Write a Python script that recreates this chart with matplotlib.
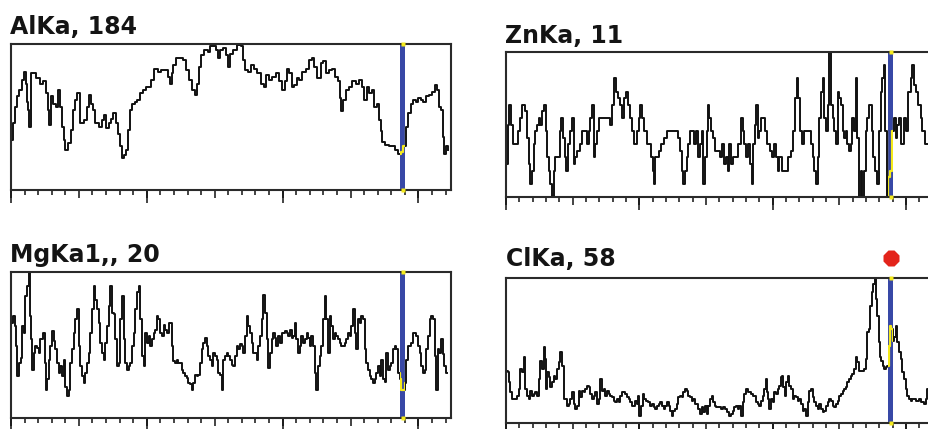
import matplotlib
matplotlib.use("Agg")
import matplotlib.pyplot as plt
import matplotlib.transforms as mtransforms
from matplotlib.ticker import MultipleLocator

# ---- element line scans (channel position, counts) ----
al_x = [0.7,2.2,3.2,5.1,7.1,8.8,10.5,11.3,12.0,13.0,14.0,14.9,17.4,19.8,22.3,24.7,26.7,27.7,28.9,30.1,
        32.1,34.0,35.8,37.0,38.2,39.4,40.7,43.1,44.8,46.3,48.0,49.7,51.2,52.9,54.6,56.6,58.5,59.5,61.0,62.0,
        63.9,65.9,67.6,69.3,71.3,72.5,74.2,76.2,78.1,79.6,81.1,82.3,84.0,85.5,86.7,88.4,90.4,92.1,93.8,95.8,
        98.2,100.7,102.6,104.3,106.8,109.2,111.7,114.1,116.6,117.8,119.0,120.3,122.7,125.2,127.6,130.1,132.5,134.5,136.2,137.9,
        139.4,141.1,143.5,146.0,147.7,149.6,152.1,153.3,154.5,157.0,159.0,160.7,162.4,
        164.3,168.0,170.4,171.6,173.6,175.3,177.8,180.2,182.7,185.1,186.8,188.8,191.2,193.7,196.1,198.6,201.0,202.3,204.0,205.9,
        207.9,209.6,211.3,213.3,215.7,218.2,220.6,222.6,224.3,226.8,229.2,230.9,232.9,235.3,237.8,239.7,241.4,242.7,243.9,245.1,
        247.6,250.0,252.5,254.9,257.4,259.3,261.0,262.8,264.7,266.7,268.4,270.1,271.6,272.6,274.0,277.0,279.4,281.9,284.3,286.3,
        288.0,289.7,291.7,293.6,295.3,297.3,299.0,301.0,302.7,304.4,306.4,308.8,311.3,313.2,314.2,315.7,317.4,318.6,319.8,321.1,321.8]
al_y = [63,84,105,118,126,139,149,134,111,101,80,147,147,141,134,137,122,101,82,118,
        109,105,126,105,80,63,50,59,76,101,113,122,84,84,88,105,120,109,101,84,
        84,80,88,95,78,84,90,97,84,71,55,40,44,50,76,101,109,111,113,122,
        126,130,130,139,153,149,151,151,143,134,147,158,166,166,164,151,139,126,120,134,
        155,170,176,174,181,181,176,166,176,179,170,155,172,
        176,183,181,164,151,149,158,153,147,134,130,145,139,143,147,137,126,137,153,147,
        130,132,141,139,149,153,164,166,155,141,160,162,147,151,153,143,137,116,99,113,
        126,130,137,134,139,130,113,130,122,126,105,109,88,74,61,57,55,55,50,46,
        48,55,80,97,109,113,111,116,113,111,118,120,124,132,126,105,101,67,46,55,50]

zn_x = [0.7,1.7,3.2,4.7,5.7,8.2,9.7,11.5,13.2,14.7,16.5,17.7,19.0,20.2,21.5,22.7,24.2,25.2,26.4,27.7,
        29.2,30.2,31.4,32.7,33.9,35.2,36.4,37.7,39.7,40.7,42.2,43.2,44.7,45.7,47.2,48.9,50.1,51.4,52.6,54.6,
        56.4,57.6,59.6,61.4,62.6,63.9,65.1,66.4,67.6,68.9,70.1,72.6,75.1,77.6,79.1,80.1,82.1,83.3,84.6,86.3,
        87.6,88.8,90.6,92.1,93.8,95.6,97.1,98.8,100.0,101.3,102.5,104.5,106.3,107.5,109.5,110.5,111.5,112.5,114.0,115.5,
        117.5,119.5,121.3,123.8,126.2,128.7,130.0,131.2,132.5,133.7,135.0,136.2,137.5,138.7,140.5,142.0,143.5,145.0,146.2,147.5,
        148.7,149.9,151.2,151.9,152.9,154.4,156.2,157.4,
        159.4,161.2,162.7,164.4,165.7,166.9,168.2,169.4,171.2,173.2,175.2,176.9,178.2,179.4,180.7,181.9,183.6,185.1,186.1,187.1,
        188.1,189.4,190.6,191.9,193.6,195.1,196.9,198.6,200.6,201.9,203.1,204.4,205.6,208.1,210.6,212.6,214.3,216.1,217.6,218.6,
        220.1,221.1,222.6,224.3,226.1,228.1,229.3,230.6,231.8,233.0,234.3,235.5,236.8,238.0,239.3,240.5,241.8,243.0,244.3,245.5,
        246.8,248.0,249.3,250.5,251.8,253.0,254.3,255.5,256.7,258.0,259.2,260.5,261.7,263.0,264.2,265.5,266.7,268.0,269.2,270.5,
        271.7,273.5,275.0,276.0,277.5,279.2,280.5,281.7,283.0,284.2,285.0,286.0,287.4,288.4,289.9,291.7,292.9,294.2,295.4,296.7,
        297.9,299.2,300.4,302.9,304.2,305.4,306.6,307.9,310.4,311.6,312.9,314.9,316.6]
zn_y = [2.5,5.5,7,5.5,4,4,5,6,7,6.5,4.5,2.5,1,2,4,5,5.5,6,5.5,6.5,
        7,5,3,2,1,0,2,3,3,5,6,4.5,3,2,4,5,6,2.5,3,3.5,
        4,5,5,4,5,6,7,3,4,5,6,6,6,6,5.5,7,9,8,7.5,7,
        6,7.5,8,7,6,5,4,5,6,7,6,5,4,4,3,2,1,3,3,3.5,
        4,4.5,5,5,5,5,4.5,3.5,2,1,2,3,4,5,5,4,5,3,4,5,
        1,3,5,7,6,5,4.5,3.5,
        3.5,3,4,2.5,3,2,4,2.5,3,3,4,6,5,4,3,4,2.5,1,4,5.5,
        7,4.5,5,6,6,5,4,3.5,3,4,3,2,3,2,2,3,3.5,5,7.5,9,
        7.5,5,4,5,5,5,4,3,2,1,3,6,8,9,6,5,7,11,7,6,
        5,4,8,7.5,7,5,4.5,5,4,3.5,4,6,5,9,4.5,0,2,0,2,5,
        6,7,5,3,2,1,5,8,9,10,5,0,1.5,2,5,6,4.5,5.5,6,4,
        4,6,5,8,9,10,8.5,8,7,6,5,4,4]

mg_x = [0.7,2.2,3.2,4.2,5.1,6.4,7.6,8.8,10.0,11.3,12.5,13.7,14.5,15.4,16.2,17.4,18.6,19.8,21.1,22.3,
        24.2,25.2,26.2,27.2,28.4,29.6,30.9,32.1,33.3,34.5,35.8,37.0,38.2,39.4,40.7,41.9,43.1,44.3,45.6,46.8,
        48.0,49.2,50.5,51.7,52.9,54.1,55.4,56.6,57.8,59.0,60.2,61.5,62.7,63.9,65.1,66.4,67.6,68.8,70.0,71.3,
        72.5,73.7,74.9,76.2,77.4,78.6,79.8,81.1,82.3,83.5,84.7,86.0,87.2,88.4,89.6,90.9,92.1,93.3,94.5,95.8,
        97.0,98.2,99.4,100.7,101.9,103.1,104.3,105.6,106.8,108.0,109.2,110.5,111.7,112.9,114.1,115.4,116.6,117.8,119.0,120.3,
        121.5,122.7,123.9,125.2,126.4,127.6,128.8,130.1,131.3,132.5,133.7,135.0,136.2,137.4,138.6,139.8,141.1,142.3,143.5,144.7,
        146.0,147.2,148.4,149.6,150.9,152.1,153.3,154.5,155.8,157.0,158.2,159.4,
        160.6,161.9,163.1,164.3,165.5,166.7,168.0,169.2,170.4,171.6,172.9,174.1,175.3,176.5,177.8,179.0,180.2,181.4,182.7,183.9,
        185.1,186.3,187.6,188.8,190.0,191.2,192.5,193.7,194.9,196.1,197.4,198.6,199.8,201.0,202.3,203.5,204.7,205.9,207.2,208.4,
        209.6,210.8,212.1,213.3,214.5,215.7,217.0,218.2,219.4,220.6,221.9,223.1,224.3,225.5,226.8,228.0,229.2,230.4,231.7,232.9,
        234.1,235.3,236.6,237.8,239.0,240.2,241.4,242.7,243.9,245.1,246.3,247.6,248.8,250.0,251.2,252.5,253.7,254.9,256.1,257.4,
        258.6,259.8,261.0,262.3,263.5,264.7,265.9,267.2,268.4,269.6,270.8,272.1,273.3,274.5,275.7,277.0,278.2,279.4,280.6,281.9,
        283.1,284.3,285.5,286.8,288.0,289.2,290.4,291.7,292.9,294.1,295.3,296.6,297.8,299.0,300.2,301.5,302.7,303.9,305.1,306.4,
        307.6,308.8,310.0,311.3,312.5,313.7,314.9,316.1,317.4,318.6,319.8,321.0]
mg_y = [13.0,14.0,12.6,9.8,5.7,7.6,8.2,12.6,11.7,16.7,18.1,19.9,14.0,10.8,6.6,8.9,9.8,9.6,8.9,10.8,
        11.7,7.6,3.9,5.3,8.0,9.8,11.9,10.5,9.4,7.6,6.2,7.1,5.7,8.0,4.3,3.0,3.9,7.6,9.4,11.7,
        13.5,14.9,9.8,7.1,5.7,4.8,6.2,7.6,8.9,11.7,14.9,18.1,16.2,14.9,13.0,10.3,8.9,8.0,10.3,12.6,
        15.3,18.1,14.4,14.2,10.8,7.1,7.6,13.5,16.7,10.8,7.6,6.6,7.1,7.6,9.8,11.7,14.9,17.2,18.1,13.5,
        8.5,7.1,11.7,10.3,11.2,9.8,10.8,11.7,12.1,14.0,13.5,11.7,11.2,12.8,12.1,11.7,13.0,13.0,9.8,7.8,
        7.6,8.0,7.6,7.6,6.6,6.2,5.7,5.5,4.8,4.6,3.9,4.8,5.9,5.7,5.9,7.6,9.4,10.3,11.0,9.8,
        8.5,8.0,7.1,8.9,8.5,8.0,6.2,5.9,3.9,8.0,8.5,8.9,
        8.5,8.0,7.3,7.1,8.5,9.8,9.4,10.1,9.8,8.9,11.2,14.0,12.6,11.7,10.3,8.9,8.9,8.0,9.8,11.2,
        13.5,16.9,14.4,10.8,6.9,8.9,10.8,11.7,11.0,9.8,11.2,10.3,11.7,11.7,11.9,11.7,11.2,12.1,11.0,11.2,
        13.0,10.8,8.9,9.8,11.2,10.3,10.8,11.7,11.0,9.8,11.2,9.8,6.2,3.9,7.1,8.5,9.8,13.5,16.7,13.5,
        8.9,14.0,12.6,10.8,11.7,11.2,10.8,10.3,9.8,9.8,10.3,10.8,11.7,11.2,12.6,14.9,11.7,9.4,13.5,13.0,
        14.0,13.5,9.4,7.6,6.6,5.7,5.3,4.8,5.3,6.2,7.1,5.7,8.0,5.3,5.0,8.9,6.6,7.1,7.6,9.4,
        9.8,9.4,6.2,5.3,3.9,3.9,4.8,8.0,9.8,9.8,10.3,11.7,11.7,11.2,9.8,8.9,7.1,6.2,6.6,9.4,
        11.2,13.5,14.0,13.5,8.5,3.9,9.4,8.9,10.8,8.7,7.1,6.2]

cl_x = [0.7,1.7,2.7,4.0,5.2,7.2,9.0,10.2,11.5,12.7,14.0,15.2,16.5,17.7,19.0,20.2,21.5,22.7,24.0,25.2,
        26.4,27.7,28.9,29.7,30.7,31.4,32.7,33.9,35.2,36.4,37.7,38.9,40.2,41.4,42.7,43.9,45.2,46.4,47.7,48.9,
        50.1,51.4,52.6,53.9,55.1,56.4,57.6,58.9,60.1,61.4,62.6,63.9,65.1,66.4,67.6,68.9,70.1,71.4,72.6,73.9,
        75.1,76.3,77.6,78.8,80.1,81.3,82.6,83.8,85.1,86.3,87.6,88.8,90.1,91.3,92.6,93.8,95.1,96.3,97.6,98.8,
        99.6,100.5,102.0,103.0,104.5,105.5,107.0,108.8,110.0,111.3,112.5,113.8,115.0,116.3,117.5,118.8,120.0,121.3,122.5,123.8,
        125.0,126.2,127.5,128.7,130.0,131.2,132.5,133.7,135.0,136.2,137.5,138.7,140.0,141.2,142.5,143.7,145.0,146.2,147.5,148.7,
        150.0,151.2,152.5,153.7,154.9,156.2,157.4,
        158.2,160.2,161.9,163.2,165.2,166.9,168.2,169.4,170.7,171.9,173.2,174.4,175.7,176.9,178.2,179.4,180.6,182.6,184.4,185.6,
        186.9,188.1,189.4,190.6,191.9,193.1,194.4,195.1,196.1,197.1,198.1,199.4,200.6,201.9,203.1,204.4,205.6,206.8,207.6,208.6,
        209.3,210.6,211.8,213.1,214.3,215.6,216.8,218.1,219.3,220.6,221.8,223.1,224.3,225.6,226.8,228.1,229.3,230.6,231.8,233.0,
        234.3,235.5,236.8,238.0,239.3,240.5,241.8,243.0,244.3,245.5,246.8,248.0,249.3,250.5,251.8,253.0,254.3,255.5,256.7,258.0,
        259.2,260.5,261.7,263.0,264.2,265.5,266.7,268.0,269.2,270.5,271.7,273.0,273.5,275.0,276.0,277.0,278.0,279.0,280.0,281.0,
        282.0,283.0,284.2,285.4,286.7,287.4,288.4,289.4,290.4,291.7,292.9,294.2,295.4,296.7,297.9,299.2,300.4,301.7,302.9,304.2,
        305.4,306.6,307.9,309.1,310.4,311.6,312.9,314.1,315.4,316.6]
cl_y = [20.9,20.3,16.3,12.3,9.6,9.6,10.9,13.6,21.6,20.3,26.3,13.6,10.9,9.6,12.9,10.9,11.6,12.3,10.9,17.6,
        24.9,21.6,30.3,25.6,13.6,20.3,18.3,14.3,16.3,18.9,17.6,21.6,24.3,28.3,22.9,9.6,9.6,6.9,7.6,9.6,
        12.3,7.6,5.6,6.9,12.9,10.3,12.9,12.3,13.6,14.9,14.3,11.6,9.6,10.9,12.3,7.6,9.6,17.6,12.9,13.6,
        10.9,12.9,11.6,10.9,10.3,8.9,8.3,9.6,8.3,10.9,12.3,12.3,11.6,10.3,9.6,8.3,6.9,6.9,8.9,7.6,
        10.9,2.9,6.9,11.6,9.6,8.9,8.3,6.9,7.6,6.3,5.6,6.9,7.6,8.3,6.9,5.6,6.9,8.3,6.9,4.9,
        2.9,4.9,5.6,7.6,10.3,10.9,10.3,12.3,13.6,12.9,10.9,10.3,8.9,9.6,7.6,7.6,5.6,3.6,6.3,4.3,
        6.9,3.6,6.9,9.6,10.9,8.3,6.9,
        6.3,6.3,5.6,6.3,5.6,4.3,2.9,3.6,4.9,6.3,6.9,5.6,6.9,2.9,8.3,11.6,13.6,12.3,11.6,10.9,
        10.9,8.3,7.6,6.9,8.9,10.9,13.6,17.6,12.3,9.6,5.6,9.6,8.3,12.3,11.6,13.6,14.9,18.3,18.9,14.3,
        10.9,16.3,18.9,14.9,13.6,9.6,10.9,10.3,8.9,9.6,7.6,4.9,5.6,2.9,8.3,12.9,13.6,10.3,8.3,6.9,
        5.6,7.6,5.6,4.3,4.9,6.9,8.3,9.6,8.9,6.9,6.3,7.6,8.9,10.9,11.6,12.9,13.6,14.3,16.3,17.6,
        18.9,19.6,21.6,26.3,24.3,20.9,20.9,20.9,21.6,25.6,36.3,37.6,46.9,52.3,55.6,57.6,49.6,42.9,32.3,26.3,
        24.9,22.9,21.6,22.3,22.9,30.9,38.9,37.6,32.9,34.3,38.9,32.3,28.3,25.6,20.3,17.6,13.6,10.9,9.6,8.9,
        9.6,9.6,8.9,8.9,9.6,8.3,8.3,7.6,9.6,13.6]

titles = ["AlKa, 184", "ZnKa, 11", "MgKa1,, 20", "ClKa, 58"]
max_counts = [184, 11, 20, 58]
cursor_pos = 288.5
scan_len = 324

W, H = 929, 429
fig = plt.figure(figsize=(W / 100, H / 100), dpi=100)
fig.patch.set_facecolor("white")

# axes boxes in pixel units: left, top, right, bottom
boxes = [(11, 44, 451, 190), (506, 52, 938, 197), (11, 272, 451, 418), (506, 278, 938, 423)]
title_pos = [(10, 34), (505, 43), (10, 262), (506, 266)]
series = [(al_x, al_y), (zn_x, zn_y), (mg_x, mg_y), (cl_x, cl_y)]

BLUE = "#3848a6"
YELLOW = "#f4ea1c"
INK = "#111111"

for i, ((l, t, r, b), (xs, ys)) in enumerate(zip(boxes, series)):
    ax = fig.add_axes([l / W, 1 - b / H, (r - l) / W, (b - t) / H])
    ax.set_xlim(0, scan_len)
    ax.set_ylim(0, max_counts[i])
    ax.plot(xs, ys, drawstyle="steps-mid", color=INK, lw=1.4, zorder=2)

    band = ax.axvspan(cursor_pos - 1.9, cursor_pos + 1.9, color=BLUE, lw=0, zorder=3)
    hl, = ax.plot(xs, ys, drawstyle="steps-mid", color=YELLOW, lw=1.6, zorder=4)
    hl.set_clip_path(band)
    ax.plot([cursor_pos, cursor_pos], [0, max_counts[i]], "s", color=YELLOW, ms=2.5,
            mec="none", clip_on=False, zorder=6)

    for s in ax.spines.values():
        s.set_color("#2a2a2a")
        s.set_linewidth(1.5)
        s.set_zorder(5)

    ax.set_yticks([])
    ax.xaxis.set_major_locator(MultipleLocator(50))
    ax.xaxis.set_minor_locator(MultipleLocator(10))
    ax.tick_params(axis="x", which="major", direction="out", length=5.5, width=1.1,
                   color=INK, labelbottom=False)
    ax.tick_params(axis="x", which="minor", direction="out", length=3.3, width=1.1, color=INK)
    sec = ax.secondary_xaxis("bottom")
    sec.set_xticks([0, 100, 200, 300])
    sec.tick_params(axis="x", direction="out", length=9.5, width=1.1, color=INK, labelbottom=False)
    sec.spines["bottom"].set_visible(False)

    tx, ty = title_pos[i]
    fig.text(tx / W, 1 - ty / H, titles[i], fontsize=17, fontweight="bold",
             family="DejaVu Sans", color="#141414", va="baseline", ha="left")

    if i == 3:
        tr = mtransforms.blended_transform_factory(ax.transData, ax.transAxes)
        ax.plot([cursor_pos], [1.14], marker="8", color="#e3241b", ms=12, mec="none",
                transform=tr, clip_on=False, zorder=6)

fig.savefig("out.png", dpi=100, facecolor="white")
